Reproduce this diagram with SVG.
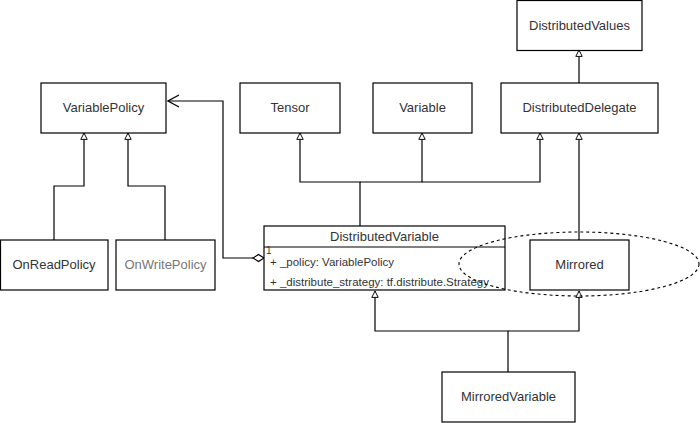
<svg xmlns="http://www.w3.org/2000/svg" width="700" height="423" viewBox="0 0 700 423">
<style>
.box{fill:#fff;stroke:#000;stroke-width:1.2}
.t{font-family:"Liberation Sans",Arial,sans-serif;font-size:13px;fill:#333;text-anchor:middle}
.a{font-family:"Liberation Sans",Arial,sans-serif;font-size:11.5px;fill:#333}
.c{fill:none;stroke:#000;stroke-width:1.2}
</style>
<defs>
<marker id="inh" viewBox="0 0 10 10" refX="9" refY="5" markerWidth="8" markerHeight="8" markerUnits="userSpaceOnUse" orient="auto">
<path d="M1,1 L9,5 L1,9 Z" fill="#fff" stroke="#000" stroke-width="1.2"/>
</marker>
<marker id="open" viewBox="0 0 14 14" refX="1" refY="7" markerWidth="14" markerHeight="14" markerUnits="userSpaceOnUse" orient="auto">
<path d="M12,1 L1,7 L12,13" fill="none" stroke="#000" stroke-width="1.2"/>
</marker>
</defs>
<rect width="700" height="423" fill="#fff"/>
<g id="connectors">
<path class="c" d="M54,240 V186 H84 V133" marker-end="url(#inh)"/>
<path class="c" d="M165,240 V186 H128 V133" marker-end="url(#inh)"/>
<path class="c" d="M360,226 V182 H300 V133" marker-end="url(#inh)"/>
<path class="c" d="M360,182 H422 V133" marker-end="url(#inh)"/>
<path class="c" d="M422,182 H540 V133" marker-end="url(#inh)"/>
<path class="c" d="M579,83 V50" marker-end="url(#inh)"/>
<path class="c" d="M579,240 V133" marker-end="url(#inh)"/>
<path class="c" d="M508,372 V331 H375 V291" marker-end="url(#inh)"/>
<path class="c" d="M508,331 H579 V291" marker-end="url(#inh)"/>
<path class="c" d="M168,101 H223 V258 H253" marker-start="url(#open)"/>
<path d="M253,258 L258.5,254.5 L264,258 L258.5,261.5 Z" fill="#fff" stroke="#000" stroke-width="1.2"/>
</g>
<g id="DistributedValues"><rect class="box" x="517" y="0.5" width="125" height="50"/><text class="t" x="579.5" y="30">DistributedValues</text></g>
<g id="VariablePolicy"><rect class="box" x="41" y="83" width="125" height="50"/><text class="t" x="103.5" y="112">VariablePolicy</text></g>
<g id="Tensor"><rect class="box" x="240" y="83" width="100" height="50"/><text class="t" x="290" y="112">Tensor</text></g>
<g id="Variable"><rect class="box" x="373" y="83" width="99" height="50"/><text class="t" x="422.5" y="112">Variable</text></g>
<g id="DistributedDelegate"><rect class="box" x="501" y="83" width="157" height="50"/><text class="t" x="579.5" y="112">DistributedDelegate</text></g>
<g id="OnReadPolicy"><rect class="box" x="0.5" y="240" width="107.5" height="50"/><text class="t" x="54" y="269">OnReadPolicy</text></g>
<g id="OnWritePolicy"><rect class="box" x="116" y="240" width="99" height="50"/><text class="t" x="165.5" y="269" style="fill:#777">OnWritePolicy</text></g>
<g id="DistributedVariable">
<rect class="box" x="264" y="226" width="241" height="64"/>
<line x1="264" y1="247" x2="505" y2="247" stroke="#000" stroke-width="1.2"/>
<text class="t" x="384.5" y="241">DistributedVariable</text>
<text class="a" x="266" y="254" style="font-size:10px">1</text>
<text class="a" x="270" y="265.5">+ _policy: VariablePolicy</text>
<text class="a" x="270" y="286">+ _distribute_strategy: tf.distribute.Strategy</text>
</g>
<g id="Mirrored"><rect class="box" x="530" y="240" width="99" height="50"/><text class="t" x="579.5" y="269">Mirrored</text></g>
<g id="MirroredVariable"><rect class="box" x="442" y="372" width="133" height="50"/><text class="t" x="508.5" y="401">MirroredVariable</text></g>
<ellipse id="highlight" cx="579" cy="264" rx="120" ry="32" fill="none" stroke="#000" stroke-width="1.1" stroke-dasharray="3,3"/>
</svg>
